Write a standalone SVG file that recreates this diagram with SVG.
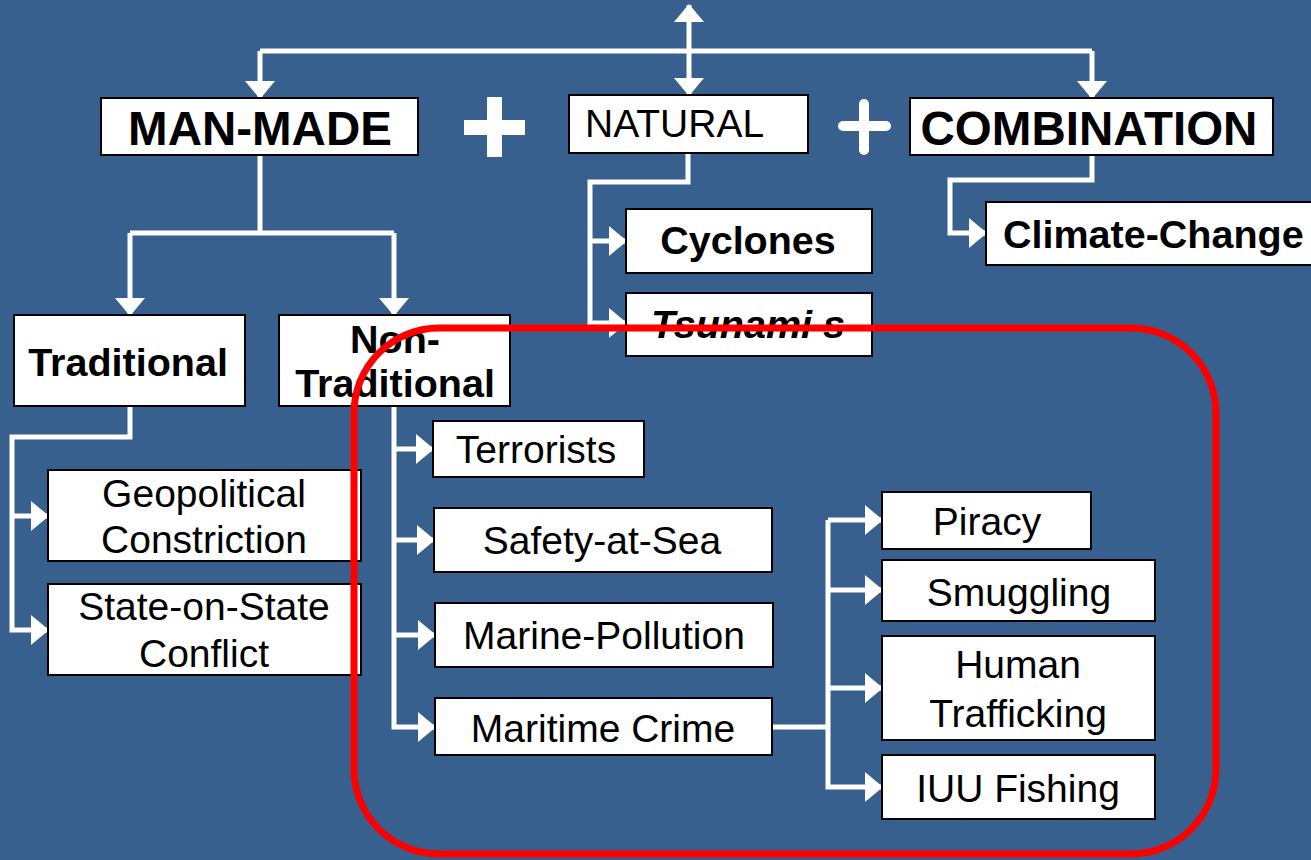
<svg xmlns="http://www.w3.org/2000/svg" width="1311" height="860" viewBox="0 0 1311 860">
<style>
.box{fill:#fff;stroke:#000;stroke-width:2}
.t{font-family:"Liberation Sans",Arial,sans-serif;fill:#000;text-anchor:middle;font-size:39px}
.b{font-weight:bold;font-size:39.5px}
.big{font-size:47.5px}
.conn{fill:none;stroke:#fff;stroke-width:5;stroke-linejoin:miter}
.arr{marker-end:url(#ah)}
</style>
<defs>
<marker id="ah" viewBox="0 0 18 30" refX="17" refY="15" markerWidth="18" markerHeight="30" markerUnits="userSpaceOnUse" orient="auto-start-reverse">
<path d="M0,0 L18,15 L0,30 z" fill="#fff"/>
</marker>
</defs>
<rect width="1311" height="860" fill="#37608F"/>

<g id="connectors">
<path class="conn" d="M260,51 H1092"/>
<path class="conn arr" d="M260,51 V98"/>
<path class="conn arr" d="M1092,51 V98"/>
<path class="conn" d="M689,95 V5" marker-start="url(#ah)" marker-end="url(#ah)"/>
<path class="conn" d="M260,155 V233"/>
<path class="conn" d="M130,233 H394"/>
<path class="conn arr" d="M130,233 V315"/>
<path class="conn arr" d="M394,233 V315"/>
<path class="conn arr" d="M130,406 V437 H12 V630 H48"/>
<path class="conn arr" d="M12,516 H48"/>
<path class="conn arr" d="M688,153 V182 H590 V323 H626"/>
<path class="conn arr" d="M590,241 H626"/>
<path class="conn arr" d="M1092,155 V180 H950 V233 H986"/>
<path class="conn arr" d="M394,406 V727 H435"/>
<path class="conn arr" d="M394,449 H433"/>
<path class="conn arr" d="M394,540 H434"/>
<path class="conn arr" d="M394,635 H435"/>
<path class="conn" d="M772,727 H828"/>
<path class="conn arr" d="M828,520 V787 H882"/>
<path class="conn arr" d="M828,520 H882"/>
<path class="conn arr" d="M828,590 H882"/>
<path class="conn arr" d="M828,688 H882"/>
</g>

<g id="plus1" fill="#fff">
<rect x="487" y="97" width="15" height="60"/>
<rect x="464" y="120" width="61" height="15"/>
</g>
<g id="plus2" stroke="#fff" stroke-width="10" stroke-linecap="round">
<line x1="864" y1="104" x2="864" y2="150"/>
<line x1="843" y1="126" x2="886" y2="126"/>
</g>

<g id="man-made"><rect class="box" x="101" y="98" width="317" height="57"/><text class="t b big" x="260" y="145">MAN-MADE</text></g>
<g id="natural"><rect class="box" x="569" y="95" width="239" height="58"/><text class="t" x="585" y="137" style="text-anchor:start">NATURAL</text></g>
<g id="combination"><rect class="box" x="910" y="98" width="363" height="57"/><text class="t b big" x="1089" y="145">COMBINATION</text></g>
<g id="cyclones"><rect class="box" x="626" y="209" width="246" height="64"/><text class="t b" x="748" y="254">Cyclones</text></g>
<g id="tsunamis"><rect class="box" x="626" y="293" width="246" height="63"/><text class="t b" x="748" y="338" font-style="italic">Tsunami s</text></g>
<g id="climate-change"><rect class="box" x="986" y="202" width="340" height="63"/><text class="t b" x="1003" y="248" style="text-anchor:start">Climate-Change</text></g>
<g id="traditional"><rect class="box" x="14" y="315" width="231" height="91"/><text class="t b" x="128" y="376">Traditional</text></g>
<g id="non-traditional"><rect class="box" x="279" y="315" width="231" height="91"/><text class="t b" x="395" y="353">Non-</text><text class="t b" x="395" y="397">Traditional</text></g>
<g id="geopolitical"><rect class="box" x="48" y="470" width="313" height="91"/><text class="t" x="204" y="507">Geopolitical</text><text class="t" x="204" y="553">Constriction</text></g>
<g id="state-on-state"><rect class="box" x="48" y="584" width="313" height="91"/><text class="t" x="204" y="620">State-on-State</text><text class="t" x="204" y="667">Conflict</text></g>
<g id="terrorists"><rect class="box" x="433" y="421" width="211" height="56"/><text class="t" x="536" y="463">Terrorists</text></g>
<g id="safety-at-sea"><rect class="box" x="434" y="508" width="338" height="64"/><text class="t" x="602" y="554">Safety-at-Sea</text></g>
<g id="marine-pollution"><rect class="box" x="435" y="603" width="338" height="64"/><text class="t" x="604" y="649">Marine-Pollution</text></g>
<g id="maritime-crime"><rect class="box" x="435" y="698" width="337" height="57"/><text class="t" x="603" y="742">Maritime Crime</text></g>
<g id="piracy"><rect class="box" x="882" y="492" width="209" height="57"/><text class="t" x="987" y="535">Piracy</text></g>
<g id="smuggling"><rect class="box" x="882" y="560" width="273" height="61"/><text class="t" x="1019" y="606">Smuggling</text></g>
<g id="human-trafficking"><rect class="box" x="882" y="636" width="273" height="104"/><text class="t" x="1018" y="678">Human</text><text class="t" x="1018" y="727">Trafficking</text></g>
<g id="iuu-fishing"><rect class="box" x="882" y="755" width="273" height="64"/><text class="t" x="1018" y="802">IUU Fishing</text></g>

<rect id="highlight" x="354" y="328" width="862" height="526" rx="85" ry="85" fill="none" stroke="#FF0000" stroke-width="7"/>
</svg>
